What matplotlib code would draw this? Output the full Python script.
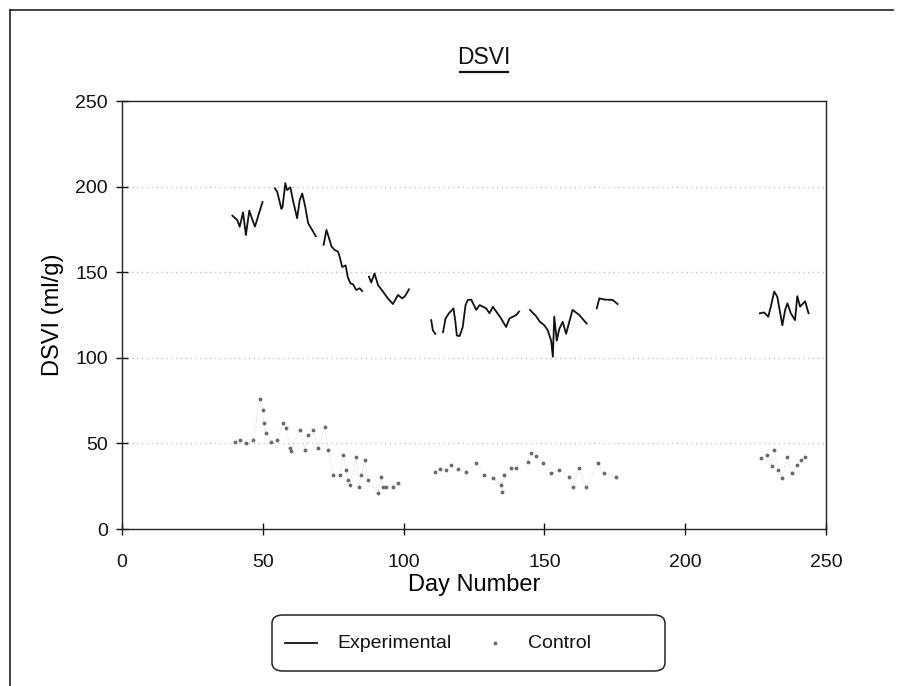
import numpy as np
import matplotlib
matplotlib.use("Agg")
import matplotlib.pyplot as plt
from matplotlib.lines import Line2D
from matplotlib.patches import FancyBboxPatch

plt.rcParams['font.family'] = ['Liberation Sans', 'DejaVu Sans']

nan = np.nan
# Experimental series (NaN = break in line)
exp_day = [39.2, 40.9, 41.8, 43.0, 44.0, 45.2, 46.1, 47.2, 49.9, nan,
           54.3, 55.1, 56.6, 57.0, 58.0, 58.6, 59.8, 60.7, 62.2, 63.1, 64.0, 65.1, 66.1, 67.2, 68.8, nan,
           71.6, 72.6, 73.5, 74.4, 75.5, 76.7, 77.3, 78.2, 79.4, 80.2, 81.1, 82.0, 83.2, 84.4, 85.3, nan,
           87.7, 88.5, 89.7, 90.9, 92.7, 94.4, 96.2, 98.0, 99.5, 100.5, 101.9, nan,
           109.8, 110.4, 111.3, nan,
           114.0, 114.9, 116.1, 117.7, 118.4, 118.9, 119.9, 121.0, 122.0, 122.8, 124.0, 125.8, 127.0,
           129.3, 130.5, 131.7, 134.6, 136.4, 137.6, 140.0, 141.0, nan,
           144.9, 147.2, 148.4, 150.0, 151.2, 152.4, 153.0, 153.5, 154.4, 155.3, 156.5, 157.7, 159.5,
           160.0, 162.4, 165.0, nan,
           168.6, 169.5, 171.5, 174.2, 176.0, nan,
           226.5, 228.0, 229.5, 230.4, 231.6, 232.7, 234.5, 235.5, 236.3, 237.5, 239.0, 239.8, 240.8, 242.6, 243.8]
exp_dsvi = [183, 180.5, 176.6, 185, 171.7, 186, 181.6, 176.6, 191, nan,
            199, 197, 187, 188, 202, 198, 199.5, 192, 181.5, 192, 196, 188, 178.6, 175.6, 171, nan,
            166, 174.7, 170, 165, 163, 162, 159, 153, 154, 147, 143.5, 143, 139.6, 140.6, 139, nan,
            147.4, 144, 149.3, 142.5, 138.6, 134.7, 131.4, 136.7, 134.7, 136, 140, nan,
            122, 116, 114, nan,
            115, 123, 126, 128.9, 121, 113, 112.7, 118, 130.8, 133.8, 134, 128, 130.8,
            128.9, 126, 129.8, 123, 118, 123, 125, 127, nan,
            128, 124, 121, 119, 116, 110, 100.6, 124, 110, 117, 121, 114, 125,
            128, 125, 120, nan,
            128.9, 134.7, 134, 133.8, 131.4, nan,
            126, 126.5, 124, 129.9, 138.7, 135.7, 119, 128, 131.8, 126, 122, 136, 129.9, 133, 126]

# Control series
ctl_day = [40, 42, 44, 46.6, 48.9, 49.9, 50.4, 51, 53, 55,
           57.2, 58.4, 59.6, 60, 63.1, 64.9, 66, 67.8, 69.6, 72, 73.2, 75, 77.3, 78.5, 79.7, 80.2,
           80.9, 83.2, 84.2, 85, 86.2, 87.3, 90.9, 92.1, 92.7, 93.9, 96.2, 98, nan,
           111, 113, 115.1, 116.9, 119.3, 122.2, 125.8, 128.7, 131.7, 134.6, 135, 135.8, 138.2, 140, nan,
           144.1, 145.3, 147, 149.4, 152.4, 155.3, 158.9, 160, 162.2, 164.8, 168.9, 171.3, 175.4, nan,
           226.8, 229.2, 230.7, 231.6, 233.1, 234.3, 236.3, 237.8, 239.8, 241, 242.6]
ctl_dsvi = [51, 52, 50, 52, 76, 69.5, 61.7, 56, 51, 52,
            61.7, 58.8, 47.4, 45.4, 57.8, 46, 54.9, 57.8, 47.1, 59.8, 46.1, 31.5, 31.5, 43.2, 34.5, 28.6,
            25.7, 42.2, 24.7, 31.5, 40.3, 28.6, 20.8, 30.5, 24.7, 24.7, 24.7, 27, nan,
            33.5, 35, 34.5, 37.4, 35, 33.5, 38.4, 31.5, 29.6, 25.7, 21.8, 31.5, 35.4, 35.4, nan,
            39.3, 44.2, 42.6, 38.4, 32.5, 34.5, 30.6, 24.7, 35.4, 24.7, 38.4, 32.5, 30.6, nan,
            41.3, 43.2, 36.8, 46.1, 34.5, 29.6, 42.2, 32.5, 37.4, 40.3, 42.2]

x_ticks = [0, 50, 100, 150, 200, 250]
y_ticks = [0, 50, 100, 150, 200, 250]
series_names = ['Experimental', 'Control']

W, H = 903, 686
fig = plt.figure(figsize=(W / 100, H / 100), dpi=100)
ax = fig.add_axes([122/W, 1-529/H, (826-122)/W, (529-101)/H])

ax.plot(ctl_day, ctl_dsvi, color='#cccccc', lw=0.6, ls=':', label='_nolegend_')
ax.plot(ctl_day, ctl_dsvi, color='#6a6a6a', ls='none', marker='.', ms=3.5, label=series_names[1])
ax.plot(exp_day, exp_dsvi, color='#111111', lw=1.3, label=series_names[0])

ax.set_xlim(0, 250)
ax.set_ylim(0, 250)
ax.set_xticks(x_ticks)
ax.set_yticks(y_ticks)
for yv in [50, 100, 150, 200]:
    ax.axhline(yv, color='#c4c4c4', lw=1.0, ls=(0, (1, 2.5)), zorder=0)
ax.tick_params(direction='inout', length=8, width=1, labelsize=14, colors='#111111')
ax.tick_params(axis='x', pad=14)
ax.tick_params(axis='y', pad=6)
for s in ax.spines.values():
    s.set_color('#222222')
    s.set_linewidth(1.0)

ax.set_xlabel('Day Number', fontsize=17, labelpad=2)
ax.set_ylabel('DSVI (ml/g)', fontsize=17, labelpad=8)

# Title with underline
fig.text(484/W, 1-57/H, 'DSVI', ha='center', va='center', fontsize=16.5, color='#111111')
fig.add_artist(Line2D([460/W, 508/W], [1-72/H, 1-72/H], color='#111111', lw=1.6))

# Outer frame (scan border)
fig.add_artist(Line2D([10/W, 10/W], [0, 1-10/H], color='#222222', lw=1.2))
fig.add_artist(Line2D([10/W, 893/W], [1-10/H, 1-10/H], color='#222222', lw=1.2))

# Legend box drawn to match the reference layout
ly = 1 - 643/H
box = FancyBboxPatch((272/W, 1-671/H), (665-272)/W, (671-615)/H,
                     boxstyle='round,pad=0,rounding_size=0.012', transform=fig.transFigure,
                     facecolor='white', edgecolor='#222222', lw=1.1)
fig.add_artist(box)
fig.add_artist(Line2D([285/W, 317/W], [ly, ly], color='#111111', lw=1.3))
fig.text(337/W, ly, series_names[0], ha='left', va='center', fontsize=14, color='#111111')
fig.add_artist(Line2D([495/W], [ly], color='#6a6a6a', ls='none', marker='.', ms=3.5))
fig.text(528/W, ly, series_names[1], ha='left', va='center', fontsize=14, color='#111111')

fig.savefig('out.png', dpi=100)
